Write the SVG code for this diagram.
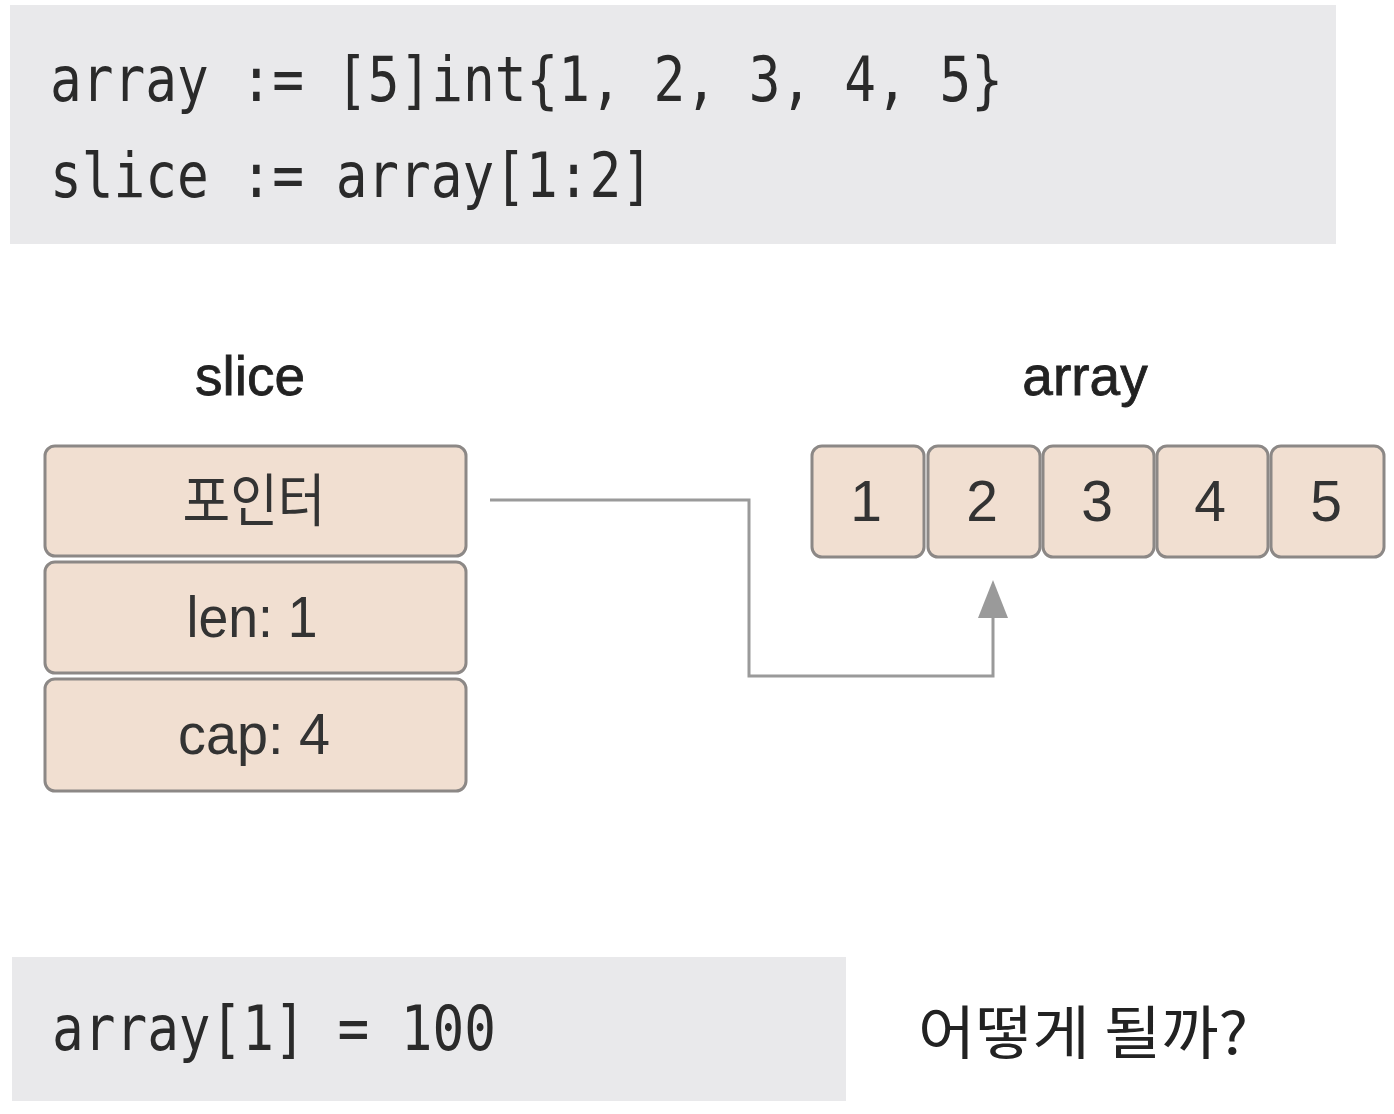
<svg xmlns="http://www.w3.org/2000/svg" width="1394" height="1114" viewBox="0 0 1394 1114">
<defs>
<style>
.code{font-family:"DejaVu Sans Mono","Liberation Mono",monospace;font-size:62px;fill:#2a2a2a}
.lbl{font-family:"Liberation Sans","Noto Sans",sans-serif;font-size:55px;fill:#222;stroke:#222;stroke-width:0.8;text-anchor:middle}
.box{fill:#f1dfd1;stroke:#8c8886;stroke-width:3}
.bt{font-family:"Liberation Sans","Noto Sans",sans-serif;font-size:57px;fill:#333;text-anchor:middle}
.kr{font-family:"Noto Sans CJK KR",sans-serif}
.conn{fill:none;stroke:#9a9a9a;stroke-width:3}
</style>
</defs>
<rect width="1394" height="1114" fill="#ffffff"/>
<g id="code-top">
<rect x="10" y="5" width="1326" height="239" fill="#e9e9eb"/>
<text class="code" x="50" y="101" textLength="953" lengthAdjust="spacingAndGlyphs">array := [5]int{1, 2, 3, 4, 5}</text>
<text class="code" x="50" y="197" textLength="603" lengthAdjust="spacingAndGlyphs">slice := array[1:2]</text>
</g>
<g id="slice-label"><text class="lbl" x="250" y="395">slice</text></g>
<g id="array-label"><text class="lbl" x="1085" y="395">array</text></g>
<g id="slice-ptr">
<rect class="box" x="45" y="446" width="421" height="110" rx="10"/>
<text class="bt kr" x="254" y="521" font-size="54" textLength="143" lengthAdjust="spacingAndGlyphs">포인터</text>
</g>
<g id="slice-len">
<rect class="box" x="45" y="562" width="421" height="111" rx="10"/>
<text class="bt" x="252" y="637" textLength="131" lengthAdjust="spacingAndGlyphs">len: 1</text>
</g>
<g id="slice-cap">
<rect class="box" x="45" y="679" width="421" height="112" rx="10"/>
<text class="bt" x="254" y="754" textLength="152" lengthAdjust="spacingAndGlyphs">cap: 4</text>
</g>
<g id="arr-0"><rect class="box" x="812" y="446" width="112" height="111" rx="10"/><text class="bt" x="866" y="521">1</text></g>
<g id="arr-1"><rect class="box" x="928" y="446" width="112" height="111" rx="10"/><text class="bt" x="982" y="521">2</text></g>
<g id="arr-2"><rect class="box" x="1043" y="446" width="111" height="111" rx="10"/><text class="bt" x="1097" y="521">3</text></g>
<g id="arr-3"><rect class="box" x="1157" y="446" width="111" height="111" rx="10"/><text class="bt" x="1210" y="521">4</text></g>
<g id="arr-4"><rect class="box" x="1271" y="446" width="113" height="111" rx="10"/><text class="bt" x="1326" y="521">5</text></g>
<g id="connectors">
<path class="conn" d="M490 500 H749 V676 H993 V615"/>
<polygon points="993,580 978,618 1008,618" fill="#9a9a9a"/>
</g>
<g id="code-bottom">
<rect x="12" y="957" width="834" height="144" fill="#e9e9eb"/>
<text class="code" x="52" y="1050" textLength="444" lengthAdjust="spacingAndGlyphs">array[1] = 100</text>
</g>
<g id="question">
<text class="kr" x="918" y="1054" font-size="58" fill="#222" textLength="330" lengthAdjust="spacingAndGlyphs">어떻게 될까?</text>
</g>
</svg>
